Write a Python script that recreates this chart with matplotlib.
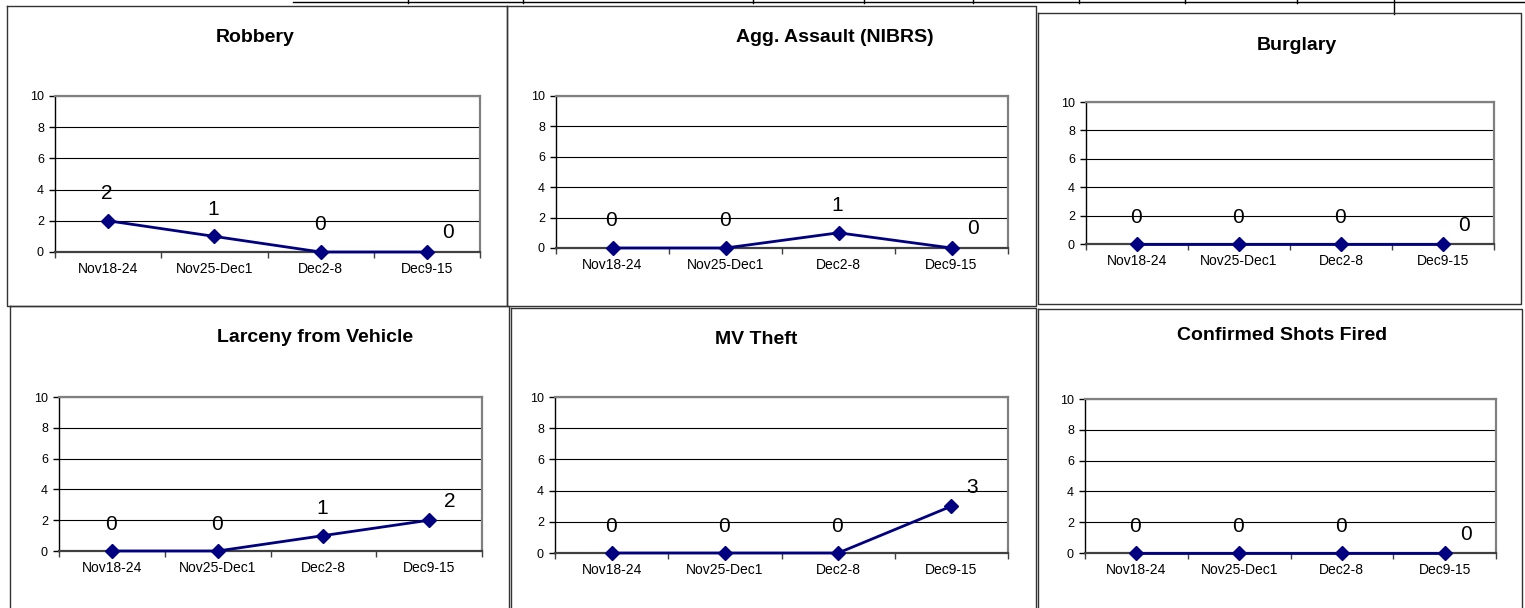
import matplotlib
matplotlib.use("Agg")
import matplotlib.pyplot as plt
from matplotlib.lines import Line2D

plt.rcParams['font.family'] = ['Liberation Sans', 'DejaVu Sans']

W, H = 1525, 608

weeks = ["Nov18-24", "Nov25-Dec1", "Dec2-8", "Dec9-15"]
titles = ["Robbery", "Agg. Assault (NIBRS)", "Burglary",
          "Larceny from Vehicle", "MV Theft", "Confirmed Shots Fired"]
robbery = [2, 1, 0, 0]
agg_assault = [0, 0, 1, 0]
burglary = [0, 0, 0, 0]
larceny_vehicle = [0, 0, 1, 2]
mv_theft = [0, 0, 0, 3]
shots_fired = [0, 0, 0, 0]
series = [robbery, agg_assault, burglary, larceny_vehicle, mv_theft, shots_fired]

# layout in pixels: plot area (left, top, right, bottom), title centre, outer frame
plot_boxes = [(55, 96, 480, 252), (556, 96, 1008, 248), (1086, 102, 1494, 244),
              (59, 397, 482, 551), (555, 397, 1008, 553), (1085, 399, 1496, 553)]
title_pos = [(255, 37), (835, 37), (1297, 45), (315, 338), (756, 340), (1282, 335)]
frames = [(7, 6, 507, 306), (507, 6, 1036, 306), (1038, 13, 1521, 304),
          (10, 306, 509, 640), (511, 308, 1036, 640), (1038, 309, 1522, 640)]

fig = plt.figure(figsize=(W / 100, H / 100), dpi=100)


def fx(x):
    return x / W


def fy(y):
    return 1 - y / H


def line(xs, ys, color='black', lw=1.0):
    fig.add_artist(Line2D([fx(x) for x in xs], [fy(y) for y in ys],
                          color=color, lw=lw, transform=fig.transFigure))


# bits of the table above the charts
line([293, 1525], [2, 2])
for x in [408, 523, 753, 864, 973, 1079, 1185, 1297]:
    line([x, x], [0, 3])
line([1394, 1394], [0, 14])

# chart frames
for (l, t, r, b) in frames:
    line([l, r, r, l, l], [t, t, b, b, t], color='#333333', lw=1.0)

for i, vals in enumerate(series):
    l, t, r, b = plot_boxes[i]
    ax = fig.add_axes([fx(l), fy(b), (r - l) / W, (b - t) / H])
    x = list(range(len(weeks)))
    ax.plot(x, vals, color='#000080', lw=2.0, marker='D', ms=7, zorder=3,
            clip_on=False)
    ax.set_xlim(-0.5, 3.5)
    ax.set_ylim(0, 10)
    ax.set_yticks(range(0, 11, 2))
    ax.set_xticks(x)
    ax.set_xticklabels(weeks)
    ax.set_xticks([-0.5, 0.5, 1.5, 2.5, 3.5], minor=True)
    ax.tick_params(axis='x', which='major', length=0, labelsize=10, pad=7)
    ax.tick_params(axis='x', which='minor', length=4, width=1, color='#404040')
    ax.tick_params(axis='y', length=4, width=1, labelsize=9, pad=4)
    ax.yaxis.grid(True, color='black', lw=0.8)
    ax.set_axisbelow(True)
    for s in ['top', 'right']:
        ax.spines[s].set_color('#808080')
        ax.spines[s].set_linewidth(1.6)
    ax.spines['left'].set_color('black')
    ax.spines['left'].set_linewidth(1.0)
    ax.spines['bottom'].set_color('#404040')
    ax.spines['bottom'].set_linewidth(1.6)

    # data labels, Excel style: above the point, the last one pushed right
    for j, v in enumerate(vals):
        off = (21, 19) if j == len(vals) - 1 else (-1, 27)
        ax.annotate(str(v), (j, v), xytext=off, textcoords='offset pixels',
                    ha='center', va='center', fontsize=15, color='black',
                    annotation_clip=False)

    tx, ty = title_pos[i]
    fig.text(fx(tx), fy(ty), titles[i], ha='center', va='center',
             fontsize=14, fontweight='bold')

fig.savefig('out.png', dpi=100)
